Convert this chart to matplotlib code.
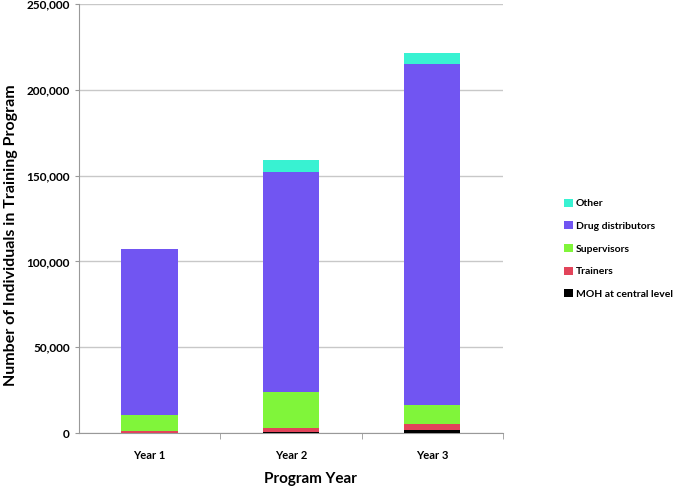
import numpy as np
import matplotlib.pyplot as plt

plt.rcParams['font.family'] = ['Lato', 'DejaVu Sans']

years = ["Year 1", "Year 2", "Year 3"]
moh = [0, 300, 1700]
trainers = [1200, 2500, 3500]
supervisors = [9300, 21200, 11100]
distributors = [96700, 128000, 198700]
other = [0, 7000, 6500]

series = [
    ("MOH at central level", moh, "#000000"),
    ("Trainers", trainers, "#E2445A"),
    ("Supervisors", supervisors, "#80F53A"),
    ("Drug distributors", distributors, "#7155F2"),
    ("Other", other, "#38F2D2"),
]

fig = plt.figure(figsize=(6.75, 4.88), dpi=100)
ax = fig.add_axes([0.117, 0.1127, 0.628, 0.879])

x = np.arange(len(years))
bottom = np.zeros(len(years))
handles = []
for name, vals, col in series:
    b = ax.bar(x, vals, 0.4, bottom=bottom, color=col, label=name, zorder=3)
    handles.append(b)
    bottom += np.array(vals)

ax.set_xlim(-0.5, 2.5)
ax.set_ylim(0, 250000)
ax.set_yticks(np.arange(0, 250001, 50000))
ax.set_yticklabels([f"{v:,}" for v in range(0, 250001, 50000)], fontsize=8.5, fontweight="bold")
ax.set_xticks(x)
ax.set_xticklabels(years, fontsize=8, fontweight="bold")
ax.set_xticks([0.5, 1.5, 2.5], minor=True)
ax.tick_params(axis="x", which="major", length=0, pad=12)
ax.tick_params(axis="x", which="minor", length=4, color="#999999")
ax.tick_params(axis="y", length=3, color="#999999")
ax.grid(axis="y", color="#c8c8c8", linewidth=1, zorder=0)
for s in ["top", "right"]:
    ax.spines[s].set_visible(False)
for s in ["left", "bottom"]:
    ax.spines[s].set_color("#999999")

ax.set_ylabel("Number of Individuals in Training Program", fontsize=11.5, fontweight="bold")
ax.yaxis.set_label_coords(-0.145, 0.46)
ax.set_xlabel("Program Year", fontsize=11, fontweight="bold")
ax.xaxis.set_label_coords(0.547, -0.092)

fig.legend(handles[::-1], [s[0] for s in series][::-1], loc="center left",
           bbox_to_anchor=(0.822, 0.49), frameon=False, prop={"size": 7.5, "weight": "bold"},
           handlelength=0.8, handleheight=0.8, handletextpad=0.3, labelspacing=1.25)

fig.savefig("out.png", dpi=100)
